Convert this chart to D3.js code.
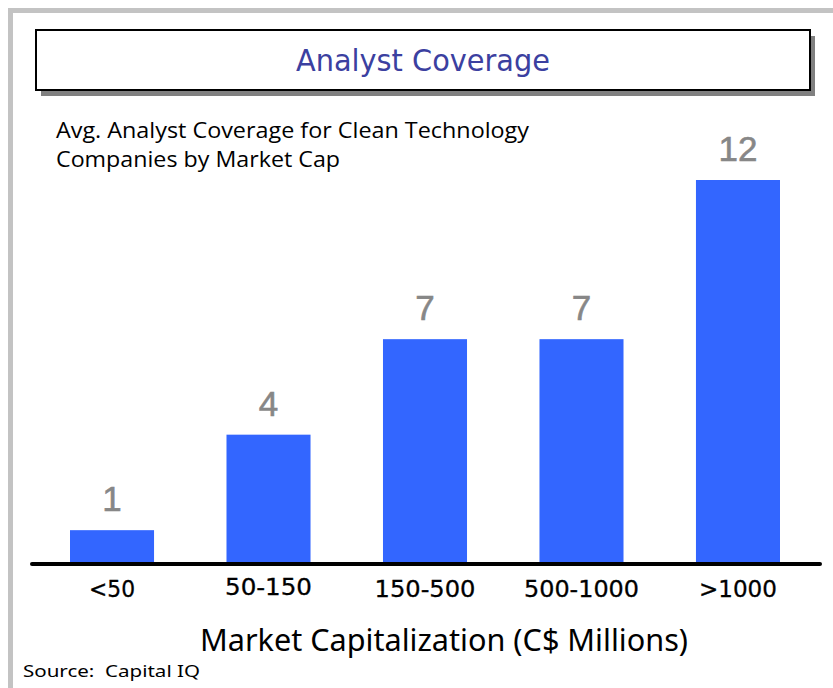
<!DOCTYPE html>
<html>
<head>
<meta charset="utf-8">
<script src="https://cdn.jsdelivr.net/npm/d3@7"></script>
<style>
  html, body { margin: 0; padding: 0; background: #fff; }
  svg { display: block; }
  text { white-space: pre; }
</style>
</head>
<body>
<div id="chart"></div>
<script>
// Data
let categories = ["<50", "50-150", "150-500", "500-1000", ">1000"];
let coverage = [1, 4, 7, 7, 12];
let labelWidths = [46, 87, 101, 115, 78];

// Size
let width = 833;
let height = 688;
let baseY = 562;

let svg = d3.select("#chart")
    .append("svg")
    .attr("width", width)
    .attr("height", height);

// grey outer frame (left and top only)
svg.append("path")
    .attr("d", "M10.5," + height + "V10.5H" + width)
    .attr("fill", "none")
    .attr("stroke", "#c3c3c3")
    .attr("stroke-width", 5);

// title box with drop shadow
svg.append("rect")
    .attr("x", 41).attr("y", 36)
    .attr("width", 774).attr("height", 60)
    .attr("fill", "#808080");
svg.append("rect")
    .attr("x", 36).attr("y", 30)
    .attr("width", 774).attr("height", 60)
    .attr("fill", "#fff")
    .attr("stroke", "#000")
    .attr("stroke-width", 2);
svg.append("text")
    .attr("x", 296).attr("y", 71)
    .attr("textLength", 254)
    .attr("lengthAdjust", "spacingAndGlyphs")
    .style("font-family", "'DejaVu Sans', sans-serif")
    .style("font-size", "30px")
    .attr("fill", "#3b40a0")
    .text("Analyst Coverage");

// subtitle
let subLines = ["Avg. Analyst Coverage for Clean Technology", "Companies by Market Cap"];
let subWidths = [473, 284];
svg.selectAll(".sub")
    .data(subLines)
    .enter()
    .append("text")
    .attr("class", "sub")
    .attr("x", 56)
    .attr("y", function (d, i) { return 138 + i * 29; })
    .attr("textLength", function (d, i) { return subWidths[i]; })
    .attr("lengthAdjust", "spacingAndGlyphs")
    .style("font-family", "'Open Sans', sans-serif")
    .style("font-size", "22px")
    .attr("fill", "#000")
    .text(function (d) { return d; });

// scales
let x = d3.scaleBand()
    .domain(categories)
    .range([70, 780])
    .paddingInner(0.463)
    .paddingOuter(0);

let y = d3.scaleLinear()
    .domain([0, 12])
    .range([baseY, 180]);

let data = categories.map(function (c, i) { return { key: c, value: coverage[i], w: labelWidths[i] }; });

// bars
svg.selectAll(".bar")
    .data(data)
    .enter()
    .append("rect")
    .attr("class", "bar")
    .attr("x", function (d) { return x(d.key); })
    .attr("y", function (d) { return y(d.value); })
    .attr("width", x.bandwidth())
    .attr("height", function (d) { return baseY - y(d.value); })
    .attr("fill", "#3366ff");

// value labels
svg.selectAll(".val")
    .data(data)
    .enter()
    .append("text")
    .attr("class", "val")
    .attr("x", function (d) { return x(d.key) + x.bandwidth() / 2; })
    .attr("y", function (d) { return y(d.value) - 19; })
    .attr("text-anchor", "middle")
    .style("font-family", "'Liberation Sans', Arial, sans-serif")
    .style("font-size", "35px")
    .attr("fill", "#878787")
    .attr("stroke", "#878787")
    .attr("stroke-width", 0.6)
    .text(function (d) { return d.value; });

// baseline axis
svg.append("line")
    .attr("x1", 32).attr("x2", 820)
    .attr("y1", baseY + 2).attr("y2", baseY + 2)
    .attr("stroke", "#000")
    .attr("stroke-width", 4)
    .attr("stroke-linecap", "round");

// category labels
svg.selectAll(".cat")
    .data(data)
    .enter()
    .append("text")
    .attr("class", "cat")
    .attr("x", function (d) { return x(d.key) + x.bandwidth() / 2 - d.w / 2; })
    .attr("y", function (d, i) { return i === 1 ? 595 : 597; })
    .attr("textLength", function (d) { return d.w; })
    .attr("lengthAdjust", "spacingAndGlyphs")
    .style("font-family", "'DejaVu Sans', sans-serif")
    .style("font-size", "23px")
    .attr("fill", "#000")
    .attr("stroke", "#000")
    .attr("stroke-width", 0.3)
    .text(function (d) { return d.key; });

// x axis title
svg.append("text")
    .attr("x", 200).attr("y", 651)
    .attr("textLength", 488)
    .attr("lengthAdjust", "spacingAndGlyphs")
    .style("font-family", "'Noto Sans', sans-serif")
    .style("font-size", "30px")
    .attr("fill", "#000")
    .text("Market Capitalization (C$ Millions)");

// source
svg.append("text")
    .attr("x", 23).attr("y", 677)
    .attr("textLength", 177)
    .attr("lengthAdjust", "spacingAndGlyphs")
    .style("font-family", "'Noto Sans', sans-serif")
    .style("font-size", "16px")
    .attr("fill", "#000")
    .text("Source:  Capital IQ");
</script>
</body>
</html>
